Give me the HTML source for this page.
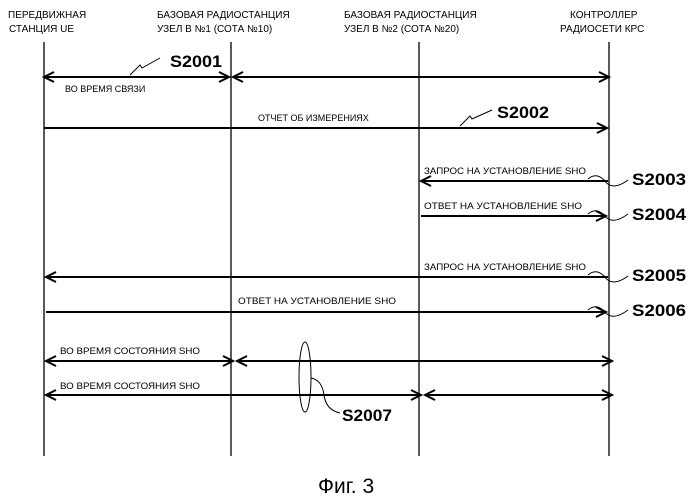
<!DOCTYPE html>
<html><head><meta charset="utf-8"><style>
body{margin:0;background:#fff}
svg{display:block}
text{font-family:"Liberation Sans",sans-serif;fill:#000}
.h{font-size:10px}
.s{font-size:9px}
.b{font-size:17px;font-weight:bold}
</style></head><body>
<svg width="694" height="500" viewBox="0 0 694 500">
<g stroke="#000" stroke-width="1.3" fill="none">
<line x1="44" y1="42" x2="44" y2="456"/>
<line x1="231" y1="42" x2="231" y2="456"/>
<line x1="419" y1="42" x2="419" y2="456"/>
<line x1="609" y1="42" x2="609" y2="456"/>
</g>
<g stroke="#000" stroke-width="2" fill="none">
<line x1="44" y1="77" x2="229" y2="77"/><path d="M54 72 L44 77 L54 82 M219 72 L229 77 L219 82"/>
<line x1="233" y1="77" x2="609" y2="77"/><path d="M243 72 L233 77 L243 82 M599 72 L609 77 L599 82"/>
<line x1="44" y1="128" x2="607" y2="128"/><path d="M597 123 L607 128 L597 133"/>
<line x1="421" y1="181" x2="608" y2="181"/><path d="M431 176 L421 181 L431 186"/>
<line x1="421" y1="216" x2="606" y2="216"/><path d="M596 211 L606 216 L596 221"/>
<line x1="46" y1="277" x2="608" y2="277"/><path d="M56 272 L46 277 L56 282"/>
<line x1="46" y1="312" x2="606" y2="312"/><path d="M596 307 L606 312 L596 317"/>
<line x1="46" y1="361" x2="233" y2="361"/><path d="M56 356 L46 361 L56 366 M223 356 L233 361 L223 366"/>
<line x1="237" y1="361" x2="612" y2="361"/><path d="M247 356 L237 361 L247 366 M602 356 L612 361 L602 366"/>
<line x1="46" y1="395" x2="421" y2="395"/><path d="M56 390 L46 395 L56 400 M411 390 L421 395 L411 400"/>
<line x1="425" y1="395" x2="612" y2="395"/><path d="M435 390 L425 395 L435 400 M602 390 L612 395 L602 400"/>
</g>
<g stroke="#000" stroke-width="1" fill="none">
<path d="M130 75 L140 65 L142 68 L160 58"/>
<path d="M460 126 L470 116 L472 119 L492 110"/>
<path d="M588 179 Q596 172 604 180 Q612 192 628 180"/>
<path d="M588 214 Q596 207 604 215 Q612 226 628 214"/>
<path d="M588 275 Q596 268 604 276 Q612 288 628 276"/>
<path d="M588 310 Q596 303 604 311 Q612 322 628 310"/>
<ellipse cx="305" cy="377" rx="6" ry="35"/>
<path d="M311 378 Q322 380 324 395 Q326 410 340 413"/>
</g>
<text class="h" x="8" y="18">ПЕРЕДВИЖНАЯ</text>
<text class="h" x="9" y="32">СТАНЦИЯ UE</text>
<text class="h" x="157" y="18">БАЗОВАЯ РАДИОСТАНЦИЯ</text>
<text class="h" x="157" y="32">УЗЕЛ В №1 (СОТА №10)</text>
<text class="h" x="344" y="18">БАЗОВАЯ РАДИОСТАНЦИЯ</text>
<text class="h" x="344" y="32">УЗЕЛ В №2 (СОТА №20)</text>
<text class="h" x="570" y="18">КОНТРОЛЛЕР</text>
<text class="h" x="560" y="32">РАДИОСЕТИ КРС</text>
<text class="b" x="170" y="67" textLength="52" lengthAdjust="spacingAndGlyphs">S2001</text>
<text class="s" x="65" y="92">ВО ВРЕМЯ СВЯЗИ</text>
<text class="s" x="258" y="121">ОТЧЕТ ОБ ИЗМЕРЕНИЯХ</text>
<text class="b" x="497" y="118" textLength="52" lengthAdjust="spacingAndGlyphs">S2002</text>
<text class="s" x="424" y="174" textLength="162" lengthAdjust="spacingAndGlyphs">ЗАПРОС НА УСТАНОВЛЕНИЕ SHO</text>
<text class="b" x="632" y="185" textLength="54" lengthAdjust="spacingAndGlyphs">S2003</text>
<text class="s" x="424" y="209" textLength="158" lengthAdjust="spacingAndGlyphs">ОТВЕТ НА УСТАНОВЛЕНИЕ SHO</text>
<text class="b" x="632" y="220" textLength="54" lengthAdjust="spacingAndGlyphs">S2004</text>
<text class="s" x="424" y="270" textLength="162" lengthAdjust="spacingAndGlyphs">ЗАПРОС НА УСТАНОВЛЕНИЕ SHO</text>
<text class="b" x="632" y="281" textLength="54" lengthAdjust="spacingAndGlyphs">S2005</text>
<text class="s" x="238" y="304" textLength="158" lengthAdjust="spacingAndGlyphs">ОТВЕТ НА УСТАНОВЛЕНИЕ SHO</text>
<text class="b" x="632" y="316" textLength="54" lengthAdjust="spacingAndGlyphs">S2006</text>
<text class="s" x="60" y="354" textLength="140" lengthAdjust="spacingAndGlyphs">ВО ВРЕМЯ СОСТОЯНИЯ SHO</text>
<text class="s" x="60" y="389" textLength="140" lengthAdjust="spacingAndGlyphs">ВО ВРЕМЯ СОСТОЯНИЯ SHO</text>
<text class="b" x="342" y="421" textLength="50" lengthAdjust="spacingAndGlyphs">S2007</text>
<text x="318" y="493" style="font-size:21px">Фиг. 3</text>
</svg>
</body></html>
